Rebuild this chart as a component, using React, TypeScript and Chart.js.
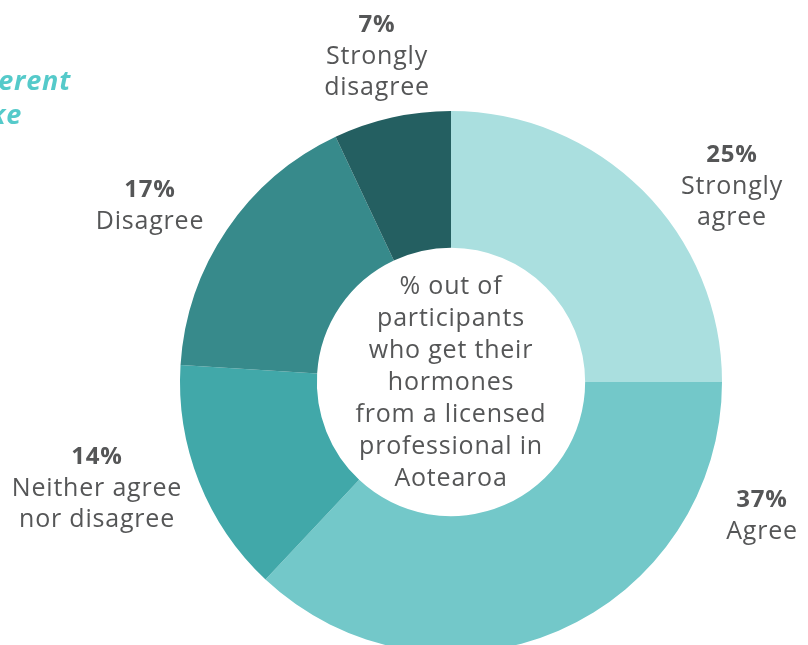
import React, { useEffect, useRef } from "react";
import { Chart, registerables } from "chart.js";

Chart.register(...registerables);

const categories = ["Strongly agree", "Agree", "Neither agree nor disagree", "Disagree", "Strongly disagree"];
const values = [25, 37, 14, 17, 7];
const percentLabels = ["25%", "37%", "14%", "17%", "7%"];
const labelLines = [["Strongly", "agree"], ["Agree"], ["Neither agree", "nor disagree"], ["Disagree"], ["Strongly", "disagree"]];
const colors = ["#aadfdf", "#73c8c9", "#41a8a9", "#378a8b", "#245f61"];
const centerLines = ["% out of", "participants", "who get their", "hormones", "from a licensed", "professional in", "Aotearoa"];
const headingFragments = ["Different", "take"];

const FONT = "'Open Sans', 'Noto Sans', sans-serif";
const TEXT_COLOR = "#555657";

// label anchor positions (centre of first line)
const labelAnchors = [
  [732, 155],
  [762, 500],
  [97, 457],
  [150, 190],
  [377, 25],
];

const labelsPlugin = {
  id: "customLabels",
  afterDraw(chart: any) {
    const ctx = chart.ctx;
    const meta = chart.getDatasetMeta(0);
    const arc = meta.data[0];
    const cx = arc.x;
    const cy = arc.y;
    ctx.save();
    ctx.textAlign = "center";
    ctx.textBaseline = "middle";
    ctx.fillStyle = TEXT_COLOR;
    ctx.letterSpacing = "0.8px";
    ctx.font = `25px ${FONT}`;
    centerLines.forEach((t, i) => {
      ctx.fillText(t, cx, cy - 95 + i * 32);
    });
    labelAnchors.forEach(([x, y], i) => {
      ctx.font = `bold 24px ${FONT}`;
      ctx.fillText(percentLabels[i], x, y);
      ctx.font = `25px ${FONT}`;
      labelLines[i].forEach((l, j) => {
        ctx.fillText(l, x, y + 32 + j * 31);
      });
    });
    ctx.fillStyle = "#55caca";
    ctx.font = `italic bold 27px ${FONT}`;
    ctx.textAlign = "right";
    ctx.fillText(headingFragments[0], 71, 82);
    ctx.fillText(headingFragments[1], 22, 116);
    ctx.restore();
  },
};

export default function App() {
  const ref = useRef<HTMLCanvasElement>(null);
  useEffect(() => {
    if (!ref.current) return;
    const chart = new Chart(ref.current, {
      type: "doughnut",
      data: {
        labels: categories,
        datasets: [
          {
            data: values,
            backgroundColor: colors,
            borderWidth: 0,
          },
        ],
      },
      options: {
        responsive: false,
        animation: false,
        cutout: "49.5%",
        layout: { padding: { left: 180, right: 86, top: 111, bottom: 47 } },
        plugins: {
          legend: { display: false },
          tooltip: { enabled: false },
        },
      },
      plugins: [labelsPlugin],
    });
    return () => chart.destroy();
  }, []);
  return (
    <div style={{ position: "fixed", left: 0, top: 0, width: 808, height: 645, overflow: "hidden", background: "#fff" }}>
      <canvas ref={ref} width={808} height={700} style={{ display: "block" }} />
    </div>
  );
}
